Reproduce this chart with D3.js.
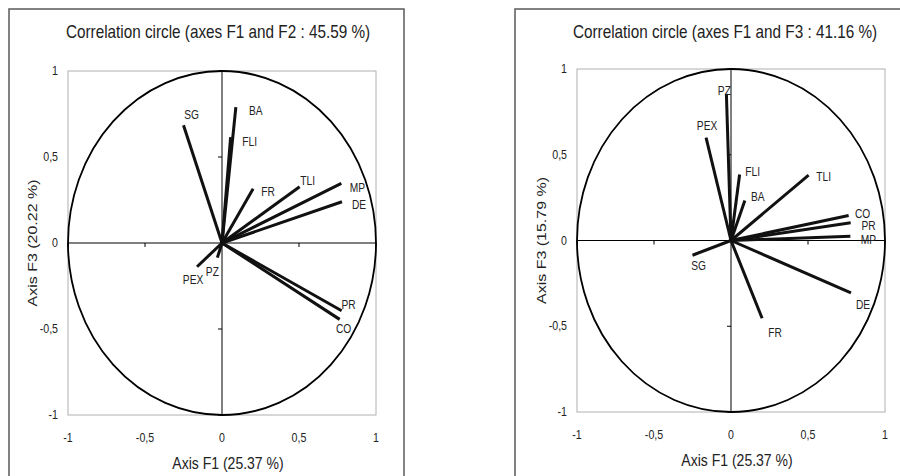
<!DOCTYPE html>
<html><head><meta charset="utf-8">
<script src="https://cdn.jsdelivr.net/npm/d3@7"></script>
<style>body{margin:0;background:#fff}svg{display:block}text{font-family:"Liberation Sans",Arial,sans-serif;fill:#222}</style>
</head><body><svg id="c" width="900" height="476"></svg>
<script>
// ---- data ----
const variables = ["SG","BA","FLI","FR","TLI","MP","DE","PEX","PZ","PR","CO"];
const f1 = [-0.25, 0.09, 0.056, 0.202, 0.504, 0.775, 0.779, -0.162, -0.03, 0.777, 0.764];
const f2 = [0.685, 0.79, 0.615, 0.316, 0.327, 0.347, 0.24, -0.138, -0.085, -0.394, -0.444];
const f3 = [-0.086, 0.233, 0.385, -0.453, 0.381, 0.025, -0.305, 0.6, 0.855, 0.103, 0.146];
const tickValues = [-1, -0.5, 0, 0.5, 1];
const tickLabels = ["-1", "-0,5", "0", "0,5", "1"];
const titles = ["Correlation circle (axes F1 and F2 : 45.59 %)", "Correlation circle (axes F1 and F3 : 41.16 %)"];
const xTitles = ["Axis F1 (25.37 %)", "Axis F1 (25.37 %)"];
const yTitles = ["Axis F3 (20.22 %)", "Axis F3 (15.79 %)"];

// ---- layout (label nudges in px, not data) ----
const labelNudge = [
  {SG:[8,-10],BA:[20,4],FLI:[19,5],FR:[15,3],TLI:[8,-6],MP:[16,4],DE:[17,3],PEX:[-4,13],PZ:[-5,14],PR:[7,-6],CO:[4,9]},
  {SG:[6,11],BA:[13,-4],FLI:[13,-3],FR:[13,15],TLI:[15,2],MP:[18,4],DE:[12,12],PEX:[1,-12],PZ:[-2,-3],PR:[18,3],CO:[14,-2]}
];
const panels = [
  {box:[9,9,395,480], x0:68, x1:376, y0:415, y1:71, ys:f2, titleX:218},
  {box:[515,9,400,480], x0:577, x1:885, y0:412, y1:69, ys:f3, titleX:725}
];
const SQ = 0.85; // horizontal squeeze of the original picture's text

function txt(g, x, y, size, anchor, s, dy) {
  return g.append("text")
    .attr("transform", `translate(${x},${y}) scale(${SQ},1)`)
    .attr("text-anchor", anchor).attr("font-size", size)
    .attr("dy", dy || null).text(s);
}

const svg = d3.select("#c");
panels.forEach((p, pi) => {
  const g = svg.append("g");
  const x = d3.scaleLinear().domain([-1,1]).range([p.x0,p.x1]);
  const y = d3.scaleLinear().domain([-1,1]).range([p.y0,p.y1]);
  g.append("rect").attr("x",p.box[0]).attr("y",p.box[1]).attr("width",p.box[2]).attr("height",p.box[3])
    .attr("fill","none").attr("stroke","#5a5a5a").attr("stroke-width",1.5);
  txt(g, p.titleX, 38, 18, "middle", titles[pi]);
  // plot area
  g.append("rect").attr("x",p.x0).attr("y",p.y1).attr("width",p.x1-p.x0).attr("height",p.y0-p.y1)
    .attr("fill","none").attr("stroke","#b0b0b0").attr("stroke-width",1);
  // zero axes
  g.append("line").attr("x1",x(-1)).attr("x2",x(1)).attr("y1",y(0)).attr("y2",y(0)).attr("stroke","#000").attr("stroke-width",1);
  g.append("line").attr("x1",x(0)).attr("x2",x(0)).attr("y1",y(-1)).attr("y2",y(1)).attr("stroke","#000").attr("stroke-width",1);
  // ticks on zero axes
  tickValues.filter(v=>v!==0).forEach(v=>{
    g.append("line").attr("x1",x(v)).attr("x2",x(v)).attr("y1",y(0)).attr("y2",y(0)+4).attr("stroke","#000");
    g.append("line").attr("x1",x(0)-4).attr("x2",x(0)).attr("y1",y(v)).attr("y2",y(v)).attr("stroke","#000");
  });
  // tick labels
  tickValues.forEach((v,i)=>{
    txt(g, x(v), p.y0+27, 12.5, "middle", tickLabels[i]);
    txt(g, p.x0-10, y(v)+4, 12.5, "end", tickLabels[i]);
  });
  // axis titles
  txt(g, (p.x0+p.x1)/2+6, p.y0+54, 16.5, "middle", xTitles[pi]);
  g.append("text").attr("transform",`translate(${p.x0-31},${y(0)}) rotate(-90) scale(1,${SQ})`)
    .attr("text-anchor","middle").attr("font-size",16).text(yTitles[pi]);
  // circle
  g.append("ellipse").attr("cx",x(0)).attr("cy",y(0)).attr("rx",x(1)-x(0)).attr("ry",y(-1)-y(0))
    .attr("fill","none").attr("stroke","#000").attr("stroke-width",1.8);
  // vectors
  variables.forEach((name,i)=>{
    g.append("line").attr("x1",x(0)).attr("y1",y(0)).attr("x2",x(f1[i])).attr("y2",y(p.ys[i]))
      .attr("stroke","#111").attr("stroke-width",3);
  });
  variables.forEach((name,i)=>{
    const n = labelNudge[pi][name];
    txt(g, x(f1[i])+n[0], y(p.ys[i])+n[1], 12, "middle", name, "0.35em");
  });
});
</script></body></html>
